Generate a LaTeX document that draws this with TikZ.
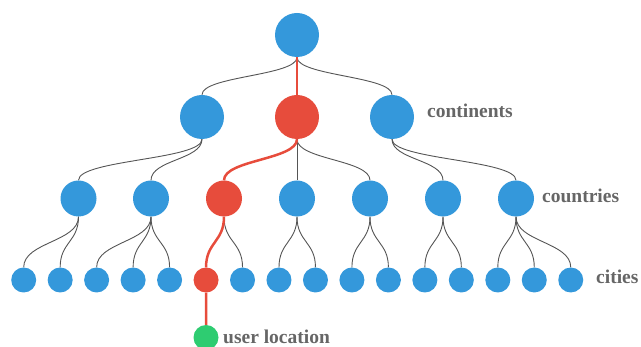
\documentclass[tikz,border=0pt]{standalone}
\usepackage{fontspec}
\setmainfont{Liberation Serif}
\usetikzlibrary{calc,backgrounds}
\definecolor{cblue}{HTML}{3498DB}
\definecolor{cred}{HTML}{E74C3C}
\definecolor{cgreen}{HTML}{2ECC71}
\definecolor{linkgray}{HTML}{555555}
\definecolor{txtgray}{HTML}{666666}
\tikzset{
  bignode/.style={circle, fill=cblue, minimum size=44pt, inner sep=0pt},
  midnode/.style={circle, fill=cblue, minimum size=36pt, inner sep=0pt},
  smallnode/.style={circle, fill=cblue, minimum size=25pt, inner sep=0pt},
  link/.style={draw=linkgray, line width=0.9pt},
  hot/.style={draw=cred, line width=2.5pt},
  lbl/.style={text=txtgray, font=\bfseries\fontsize{19.5}{22}\selectfont, anchor=base west, inner sep=0pt}
}
\newcommand\tlink[3]{\draw[#1] let \p1=(#2.south), \p2=(#3.north) in (\p1) .. controls (\x1,{(\y1+\y2)/2}) and (\x2,{(\y1+\y2)/2}) .. (\p2);}
\begin{document}
\begin{tikzpicture}[x=1pt,y=-1pt]
\useasboundingbox (0,0) rectangle (641,347);
% root
\node[bignode] (r) at (297,35) {};
% continents
\node[bignode] (c1) at (202,117) {};
\node[bignode, fill=cred] (c2) at (297,117) {};
\node[bignode] (c3) at (392,117) {};
% countries
\node[midnode] (k1) at (78.5,198.5) {};
\node[midnode] (k2) at (151,198.5) {};
\node[midnode, fill=cred] (k3) at (224,198.5) {};
\node[midnode] (k4) at (297,198.5) {};
\node[midnode] (k5) at (370,198.5) {};
\node[midnode] (k6) at (443,198.5) {};
\node[midnode] (k7) at (516,198.5) {};
% cities
\foreach \i in {0,...,15} {
  \pgfmathsetmacro{\cx}{23.7+36.47*\i}
  \ifnum\i=5
    \node[smallnode, fill=cred] (t\i) at (\cx,280) {};
  \else
    \node[smallnode] (t\i) at (\cx,280) {};
  \fi
}
% user
\node[smallnode, fill=cgreen] (u) at (206,337.5) {};
% labels
\node[lbl] (lc) at (427,118) {continents};
\node[lbl] (lk) at (542,202.5) {countries};
\node[lbl] (lt) at (596,283.5) {cities};
\node[lbl] (lu) at (223,343.5) {user location};
% links
\begin{scope}[on background layer]
\tlink{link}{r}{c1}
\tlink{link}{r}{c3}
\tlink{link}{c1}{k1}
\tlink{link}{c1}{k2}
\tlink{link}{c2}{k4}
\tlink{link}{c2}{k5}
\tlink{link}{c3}{k6}
\tlink{link}{c3}{k7}
\tlink{link}{k1}{t0}
\tlink{link}{k1}{t1}
\tlink{link}{k2}{t2}
\tlink{link}{k2}{t3}
\tlink{link}{k2}{t4}
\tlink{link}{k3}{t6}
\tlink{link}{k4}{t7}
\tlink{link}{k4}{t8}
\tlink{link}{k5}{t9}
\tlink{link}{k5}{t10}
\tlink{link}{k6}{t11}
\tlink{link}{k6}{t12}
\tlink{link}{k7}{t13}
\tlink{link}{k7}{t14}
\tlink{link}{k7}{t15}
\tlink{hot}{r}{c2}
\tlink{hot}{c2}{k3}
\tlink{hot}{k3}{t5}
\tlink{hot}{t5}{u}
\end{scope}
\end{tikzpicture}
\end{document}
